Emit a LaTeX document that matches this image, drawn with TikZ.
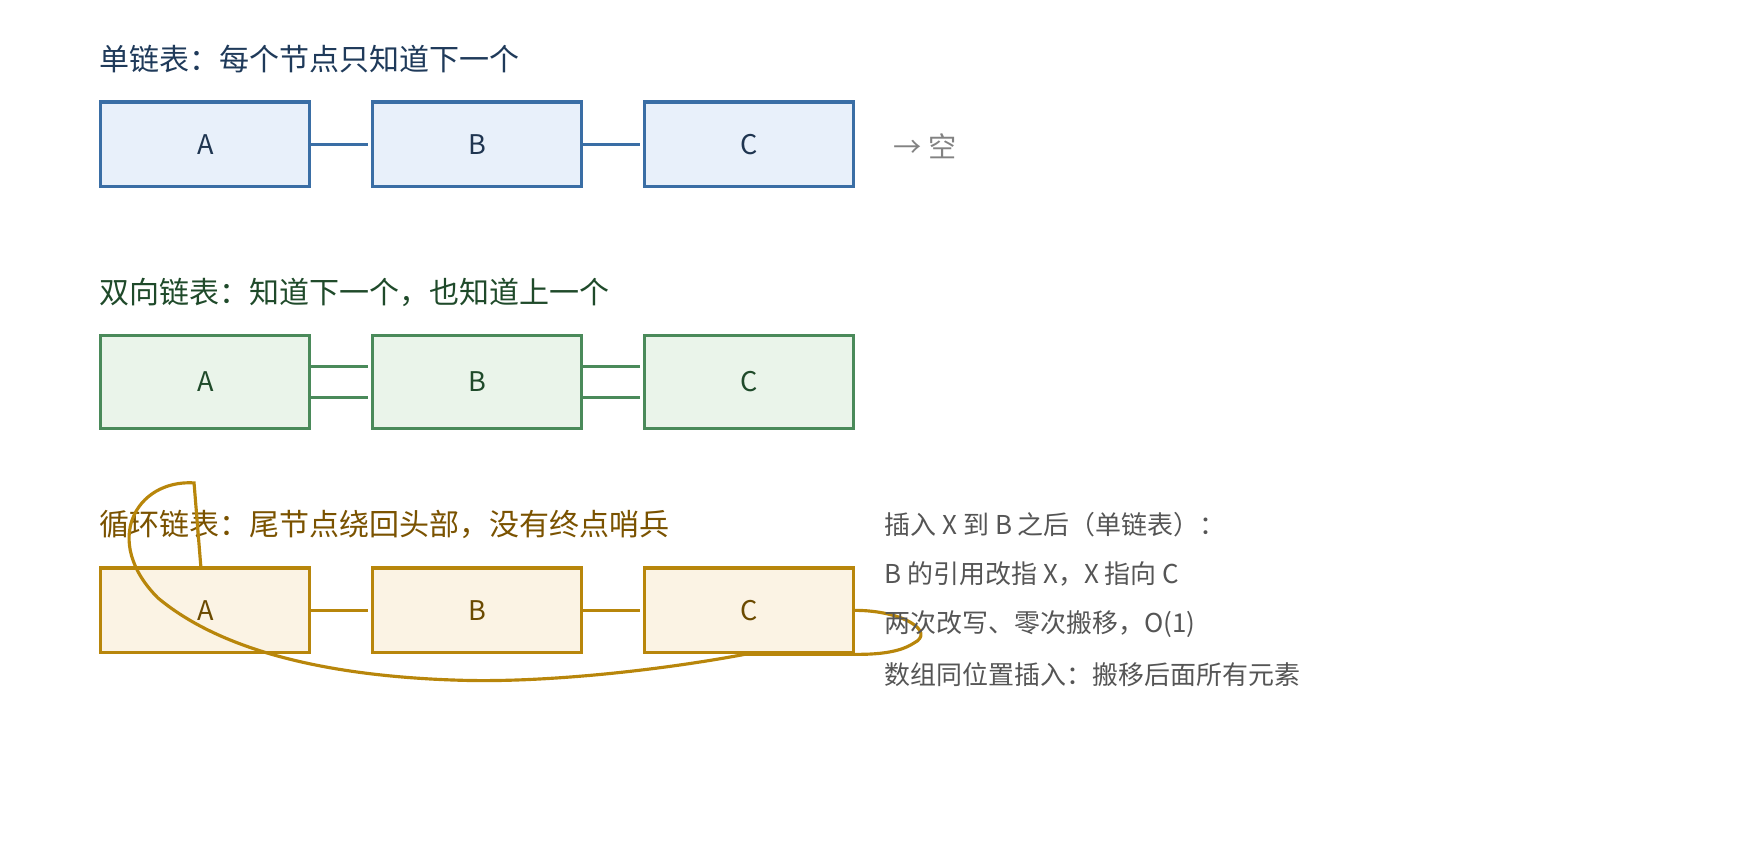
\documentclass[tikz,border=0pt]{standalone}
\usepackage{fontspec}
\setmainfont{Noto Sans CJK SC}
\begin{document}
\begin{tikzpicture}[x=0.5pt,y=-0.5pt,
 box/.style={draw,line width=1.4pt,minimum width=92.6pt,minimum height=37.6pt,anchor=north west,font=\fontsize{12}{14}\selectfont,inner sep=0},
 bb/.style={box,draw={rgb,255:red,58;green,110;blue,165},fill={rgb,255:red,232;green,240;blue,250},text={rgb,255:red,31;green,53;blue,80}},
 gb/.style={box,minimum height=41.1pt,draw={rgb,255:red,74;green,138;blue,90},fill={rgb,255:red,234;green,244;blue,234},text={rgb,255:red,31;green,74;blue,42}},
 yb/.style={box,draw={rgb,255:red,184;green,134;blue,11},fill={rgb,255:red,251;green,243;blue,228},text={rgb,255:red,107;green,74;blue,0}},
 ttl/.style={anchor=west,font=\fontsize{13.3}{15}\selectfont,inner sep=0},
 note/.style={anchor=west,font=\fontsize{11.5}{13}\selectfont,inner sep=0,text={rgb,255:red,85;green,85;blue,85}},
 ln/.style={line width=1.4pt}]
\useasboundingbox (0,0) rectangle (1560,762);
\node[ttl,text={rgb,255:red,31;green,58;blue,90}] (t1) at (88,52) {单链表：每个节点只知道下一个};
\node[bb] (a1) at (88,89) {A};
\node[bb] (b1) at (329,89) {B};
\node[bb] (c1) at (570,89) {C};
\draw[ln,draw={rgb,255:red,58;green,110;blue,165}] (a1.east) -- ([xshift=-1.5pt]b1.west);
\draw[ln,draw={rgb,255:red,58;green,110;blue,165}] (b1.east) -- ([xshift=-1.5pt]c1.west);
\node[anchor=west,inner sep=0,font=\fontsize{12.5}{14}\selectfont,text={rgb,255:red,130;green,130;blue,130}] (nul) at (792,130) {→ 空};

\node[ttl,text={rgb,255:red,31;green,74;blue,42}] (t2) at (88,259) {双向链表：知道下一个，也知道上一个};
\node[gb] (a2) at (88,296) {A};
\node[gb] (b2) at (329,296) {B};
\node[gb] (c2) at (570,296) {C};
\foreach \d in {-7pt,7pt}{
\draw[ln,draw={rgb,255:red,74;green,138;blue,90}] ([yshift=\d]a2.east) -- ([yshift=\d,xshift=-1.5pt]b2.west);
\draw[ln,draw={rgb,255:red,74;green,138;blue,90}] ([yshift=\d]b2.east) -- ([yshift=\d,xshift=-1.5pt]c2.west);}

\node[ttl,text={rgb,255:red,122;green,82;blue,0}] (t3) at (88,465) {循环链表：尾节点绕回头部，没有终点哨兵};
\node[yb] (a3) at (88,502) {A};
\node[yb] (b3) at (329,502) {B};
\node[yb] (c3) at (570,502) {C};
\draw[ln,draw={rgb,255:red,184;green,134;blue,11}] (a3.east) -- ([xshift=-1.5pt]b3.west);
\draw[ln,draw={rgb,255:red,184;green,134;blue,11}] (b3.east) -- ([xshift=-1.5pt]c3.west);
\draw[ln,draw={rgb,255:red,184;green,134;blue,11}] (c3.east) .. controls (800,541) and (830,560) .. (810,570)
 .. controls (795,580) and (770,580) .. (757,580) -- (660,580)
 .. controls (580,595) and (480,605) .. (410,603)
 .. controls (300,600) and (200,580) .. (140,530)
 .. controls (90,480) and (120,425) .. (172,428)
 -- ([xshift=-2pt]a3.north);

\node[note] (n1) at (784,465) {插入 X 到 B 之后（单链表）：};
\node[note] (n2) at (784,509) {B 的引用改指 X，X 指向 C};
\node[note] (n3) at (784,553) {两次改写、零次搬移，O(1)};
\node[note] (n4) at (784,598) {数组同位置插入：搬移后面所有元素};
\end{tikzpicture}
\end{document}
